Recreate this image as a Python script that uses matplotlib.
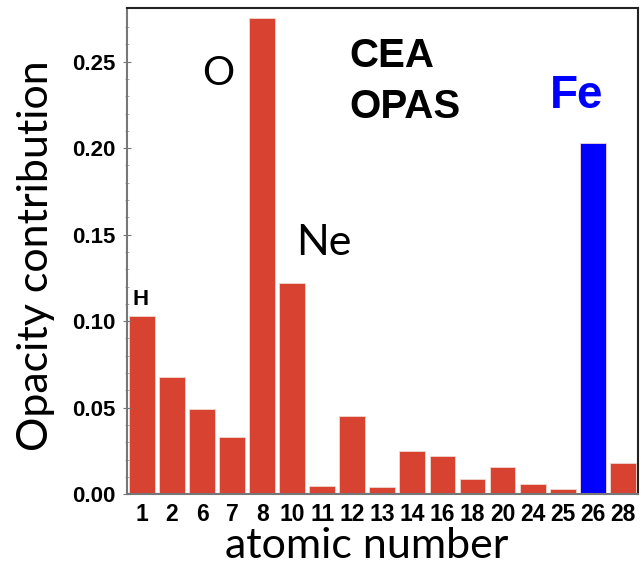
import matplotlib.pyplot as plt

# Data
elements = ['1', '2', '6', '7', '8', '10', '11', '12', '13', '14', '16', '18', '20', '24', '25', '26', '28']
opacity = [0.103, 0.068, 0.049, 0.033, 0.275, 0.122, 0.005, 0.045, 0.004, 0.025,
           0.022, 0.009, 0.016, 0.006, 0.003, 0.203, 0.018]
highlight = '26'

colors = ['#0000FF' if e == highlight else '#D84231' for e in elements]
pos = list(range(len(elements)))

fig = plt.figure(figsize=(6.41, 5.72), dpi=100)
ax = fig.add_axes([0.198, 0.136, 0.797, 0.85])

ax.bar(pos, opacity, width=0.86, color=colors, edgecolor='#f0d8d0', linewidth=0.6)

ax.set_xlim(-0.5, len(elements) - 0.5)
ax.set_ylim(0, 0.281)
ax.set_xticks(pos)
ax.set_xticklabels(elements)
ax.set_yticks([0.0, 0.05, 0.10, 0.15, 0.20, 0.25])
ax.set_yticklabels(['0.00', '0.05', '0.10', '0.15', '0.20', '0.25'])
ax.set_yticks([i / 100 for i in range(0, 28)], minor=True)

tick_font = dict(family=['Liberation Sans', 'DejaVu Sans'], weight='bold')
for lbl in ax.get_xticklabels():
    lbl.set(fontsize=16.5, **tick_font)
for lbl in ax.get_yticklabels():
    lbl.set(fontsize=16, **tick_font)

ax.tick_params(axis='x', length=0, pad=6)
ax.tick_params(axis='y', which='major', direction='inout', length=6, color='#777777', pad=5)
ax.tick_params(axis='y', which='minor', direction='inout', length=3, color='#999999')

for side in ['left', 'bottom']:
    ax.spines[side].set_color('#777777')
    ax.spines[side].set_linewidth(1.5)
for side in ['top', 'right']:
    ax.spines[side].set_color('#222222')
    ax.spines[side].set_linewidth(1.5)

label_font = dict(family=['Lato', 'DejaVu Sans'], fontsize=31)
ax.set_ylabel('Opacity contribution', **label_font)
ax.set_xlabel('atomic number', **label_font)
ax.yaxis.set_label_coords(-0.14, 0.49)
ax.xaxis.set_label_coords(0.47, -0.068)

# Annotations
ax.text(-0.03, 0.1064, 'H', fontsize=16, fontweight='bold', ha='center', va='bottom',
        family=['Liberation Sans', 'DejaVu Sans'])
ax.text(2.55, 0.243, 'O', fontsize=29, ha='center', va='center', family=['Lato', 'DejaVu Sans'])
ax.text(6.05, 0.145, 'Ne', fontsize=31, ha='center', va='center', family=['Lato', 'DejaVu Sans'])
ax.text(6.9, 0.264, 'CEA\nOPAS', fontsize=29, fontweight='bold', ha='left', va='top',
        linespacing=1.42, family=['Liberation Sans', 'DejaVu Sans'])
ax.text(14.45, 0.230, 'Fe', fontsize=33, fontweight='bold', color='#0000FF', ha='center',
        va='center', family=['Liberation Sans', 'DejaVu Sans'])

fig.savefig('out.png', dpi=100)
